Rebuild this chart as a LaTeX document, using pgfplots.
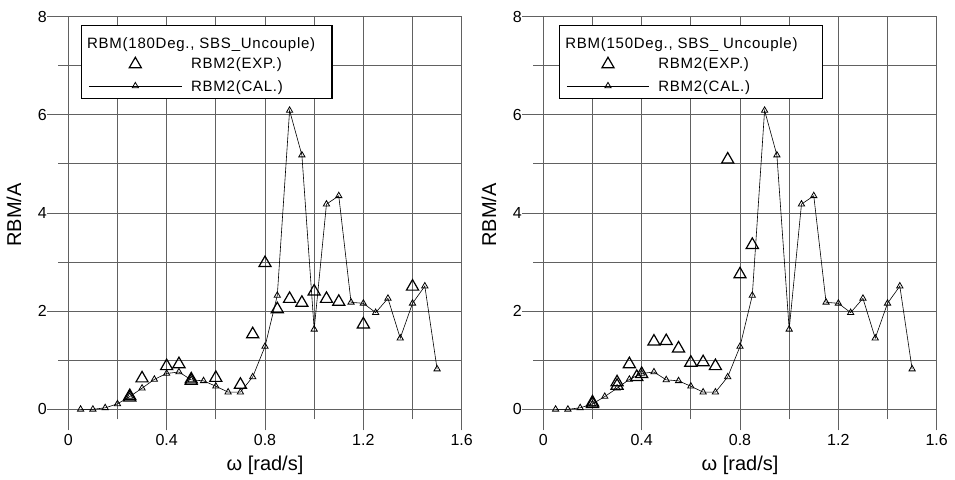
\documentclass[border=0pt]{standalone}
\usepackage{fontspec}
\setmainfont{Liberation Sans}
\newfontfamily\legendfont[LetterSpace=5]{Liberation Sans}
\usepackage{pgfplots}
\usepackage{pgfplotstable}
\pgfplotsset{compat=1.18}

% RBM2 calculated response (same curve in both panels)
\pgfplotstableread{
x y
0.05 0.00
0.10 0.00
0.15 0.03
0.20 0.11
0.25 0.26
0.30 0.43
0.35 0.61
0.40 0.73
0.45 0.76
0.50 0.60
0.55 0.58
0.60 0.47
0.65 0.35
0.70 0.35
0.75 0.66
0.80 1.28
0.85 2.32
0.90 6.09
0.95 5.18
1.00 1.63
1.05 4.18
1.10 4.35
1.15 2.18
1.20 2.16
1.25 1.97
1.30 2.26
1.35 1.45
1.40 2.16
1.45 2.51
1.50 0.82
}\calcdata

% RBM2 measured, 180 deg heading
\pgfplotstableread{
x y
0.25 0.27
0.25 0.24
0.30 0.63
0.40 0.88
0.45 0.92
0.50 0.61
0.50 0.58
0.60 0.64
0.70 0.50
0.75 1.53
0.80 2.98
0.85 2.04
0.90 2.25
0.95 2.17
1.00 2.40
1.05 2.25
1.10 2.19
1.20 1.73
1.40 2.50
}\expA

% RBM2 measured, 150 deg heading
\pgfplotstableread{
x y
0.20 0.11
0.20 0.14
0.30 0.48
0.30 0.55
0.35 0.92
0.38 0.66
0.40 0.72
0.45 1.38
0.50 1.39
0.55 1.24
0.60 0.95
0.65 0.96
0.70 0.88
0.75 5.09
0.80 2.75
0.85 3.35
}\expB

\pgfplotsset{
  rbm/.style={
    scale only axis,
    width=393.4pt, height=392.6pt,
    xmin=0, xmax=1.6, ymin=0, ymax=8,
    xtick={0,0.4,0.8,1.2,1.6},
    xticklabels={0,0.4,0.8,1.2,1.6},
    minor xtick={0.2,0.6,1.0,1.4},
    ytick={0,2,4,6,8},
    yticklabels={0,2,4,6,8},
    minor ytick={1,3,5,7},
    grid=both,
    major grid style={black!62, line width=1pt},
    minor grid style={black!62, line width=1pt},
    axis line style={draw=none},
    tick align=outside,
    xtick pos=bottom, ytick pos=left,
    major tick length=21pt, minor tick length=10pt,
    every tick/.style={black!62, line width=1pt},
    xticklabel style={font=\fontsize{16}{19}\selectfont, anchor=center,
      inner sep=0pt, yshift=-10pt},
    yticklabel style={font=\fontsize{16}{19}\selectfont, anchor=center,
      inner sep=0pt, xshift=-5pt},
    xlabel={ω [rad/s]},
    ylabel={RBM/A},
    label style={font=\fontsize{20}{24}\selectfont},
    xlabel style={at={(axis description cs:0.5,-0.142)}, anchor=center},
    ylabel style={at={(axis description cs:-0.138,0.495)}, anchor=center},
    clip=false,
    legend cell align=left,
  },
  rbmlegend/.style={
    legend style={
      at={(rel axis cs:#1,0.979)}, anchor=north west,
      draw=black, line width=1.3pt, fill=white,
      font=\legendfont\fontsize{15}{18}\selectfont,
      inner xsep=7pt, inner ysep=3pt,
      row sep=4pt,
      /tikz/every odd column/.append style={column sep=7pt},
    },
  },
  exp/.style={only marks, mark=triangle, mark size=7pt,
    mark options={black, line width=1.2pt, solid}},
  cal/.style={black, line width=0.6pt, mark=triangle, mark size=3.6pt,
    mark options={black, line width=0.8pt, solid}},
}

\begin{document}
\begin{tikzpicture}
\useasboundingbox (0,0) rectangle (955pt,479pt);

% 180 deg heading
\begin{axis}[rbm, rbmlegend=0.032,
    at={(68.3pt,69.7pt)}, anchor=south west,
    legend image code/.code={\draw[mark repeat=2,mark phase=2]
      plot coordinates {(0pt,0pt) (46.5pt,0pt) (93pt,0pt)};}]
  \addlegendimage{empty legend}
  \addlegendentry{\rule{0pt}{18pt}\hspace*{-104pt}\makebox[236pt][l]{RBM(180Deg., SBS\_Uncouple)}}
  \addplot[exp] table {\expA};
  \addlegendentry{RBM2(EXP.)}
  \addplot[cal] table {\calcdata};
  \addlegendentry{\rule{0pt}{13.5pt}RBM2(CAL.)}
\end{axis}

% 150 deg heading
\begin{axis}[rbm, rbmlegend=0.040,
    at={(543.3pt,69.7pt)}, anchor=south west,
    legend image code/.code={\draw[mark repeat=2,mark phase=2]
      plot coordinates {(0pt,0pt) (41pt,0pt) (82pt,0pt)};}]
  \addlegendimage{empty legend}
  \addlegendentry{\rule{0pt}{18pt}\hspace*{-93pt}\makebox[248pt][l]{RBM(150Deg., SBS\_ Uncouple)}}
  \addplot[exp] table {\expB};
  \addlegendentry{RBM2(EXP.)}
  \addplot[cal] table {\calcdata};
  \addlegendentry{\rule{0pt}{13.5pt}RBM2(CAL.)}
\end{axis}
\end{tikzpicture}
\end{document}
